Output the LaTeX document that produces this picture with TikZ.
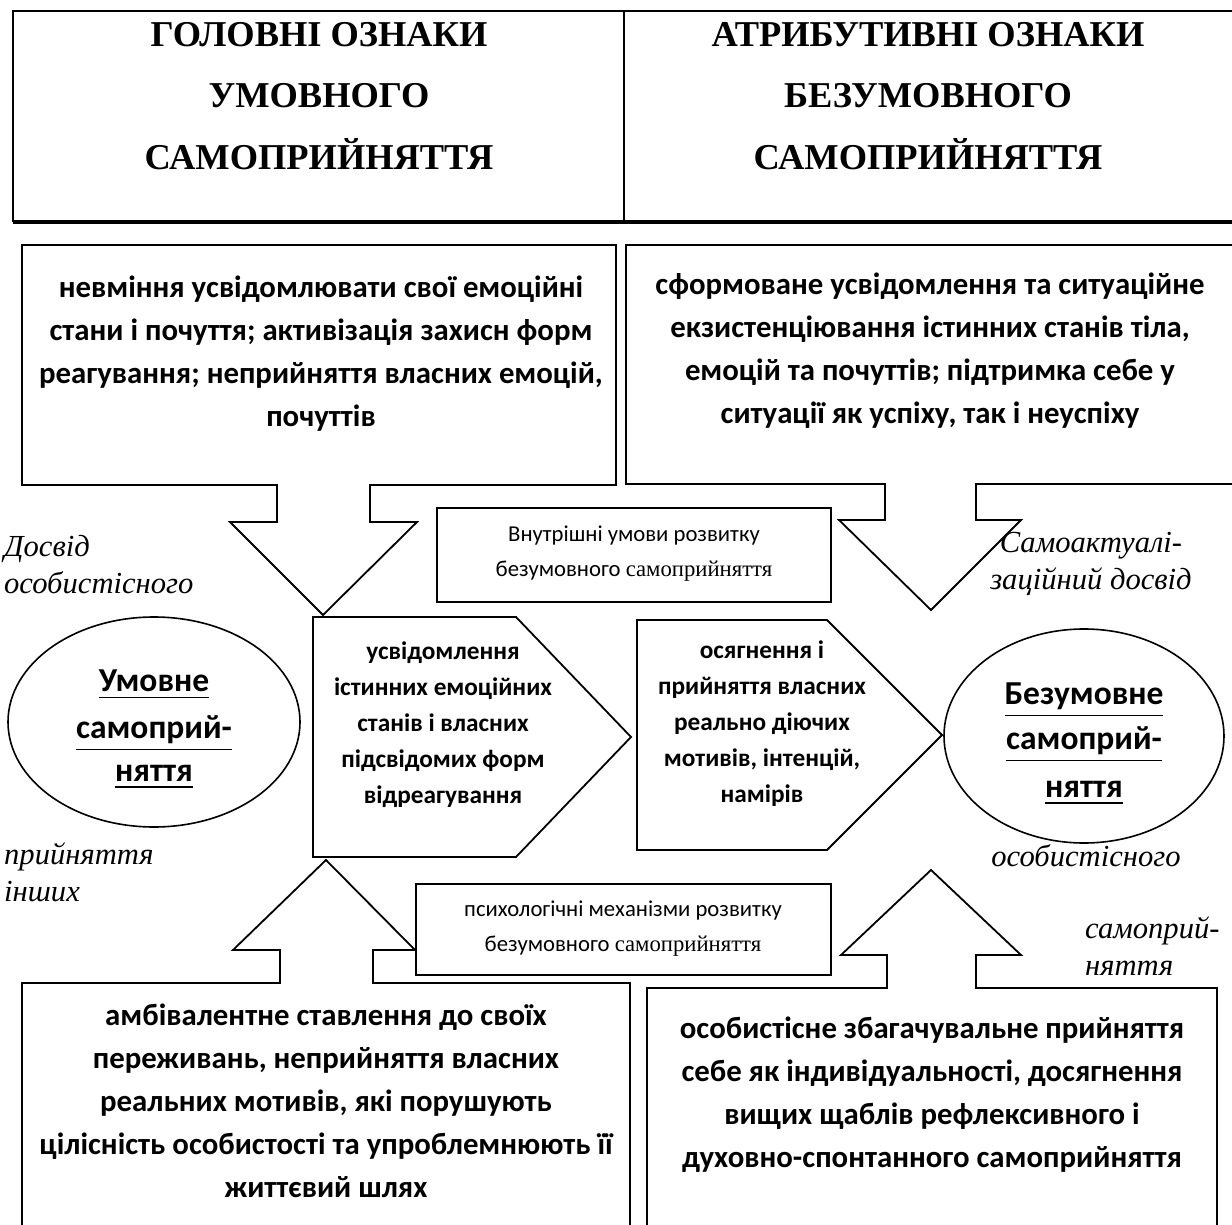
\documentclass[tikz,border=0pt]{standalone}
\usepackage{fontspec}
\setmainfont{Liberation Serif}
\newfontfamily\cfont{Carlito}
\usetikzlibrary{shapes.geometric}
\makeatletter
\newcommand\thul[1]{$\fontdimen8\textfont3=1.8pt\relax\underline{\hbox{#1}}\m@th$}
\makeatother
\begin{document}
\begin{tikzpicture}[x=1pt,y=-1pt,
  shapeline/.style={draw=black, line width=1.8pt, line join=miter},
  bodytxt/.style={font=\cfont\bfseries\fontsize{30.8}{43}\selectfont, align=center, inner sep=0},
  pentxt/.style={font=\cfont\bfseries\fontsize{25.3}{36}\selectfont, align=center, inner sep=0},
  ellitxt/.style={font=\cfont\bfseries\fontsize{33.5}{46}\selectfont, inner sep=0, anchor=base},
  smalltxt/.style={font=\cfont\fontsize{22.7}{35}\selectfont, align=center, inner sep=0},
  ittxt/.style={font=\itshape\fontsize{30.6}{37}\selectfont, align=left, inner sep=0},
  headtxt/.style={font=\bfseries\fontsize{36.4}{61.5}\selectfont, align=center, inner sep=0},
  ellshape/.style={ellipse, draw=black, line width=1.6pt, inner sep=0}
]
\useasboundingbox (0,0) rectangle (1232,1225);
\fill[white] (0,0) rectangle (1232,1225);

% header
\coordinate (hTL) at (13,11);
\coordinate (hBL) at (13,222);
\coordinate (hTR) at (1240,11);
\coordinate (hBR) at (1240,222);
\coordinate (hdT) at (624,11);
\coordinate (hdB) at (624,222);
\draw[line width=2pt] (hTR) -- (hTL) -- (hBL);
\draw[line width=3.2pt] (hBL) -- (hBR);
\draw[line width=1.3pt] (hdT) -- (hdB);
\node[headtxt] (h1) at (319,96) {ГОЛОВНІ ОЗНАКИ\\УМОВНОГО\\САМОПРИЙНЯТТЯ};
\node[headtxt] (h2) at (928,96) {АТРИБУТИВНІ ОЗНАКИ\\БЕЗУМОВНОГО\\САМОПРИЙНЯТТЯ};

% top-left callout
\draw[shapeline] (22,245) -- (616,245) -- (616,485) -- (370,485) -- (370,522) -- (417,522)
  -- (323,615) coordinate (tlTip) -- (230,522) -- (277,522) -- (277,485) -- (22,485) -- cycle;
\node[bodytxt] (tl) at (321,354) {невміння усвідомлювати свої емоційні\\стани і почуття; активізація захисн форм\\реагування; неприйняття власних емоцій,\\почуттів};

% top-right callout
\draw[shapeline] (1245,245) -- (626,245) -- (626,484) -- (885,484) -- (885,520) -- (839,520)
  -- (931,610) coordinate (trTip) -- (1021,520) -- (976,520) -- (976,484) -- (1245,484);
\node[bodytxt] (tr) at (930,351) {сформоване усвідомлення та ситуаційне\\екзистенціювання істинних станів тіла,\\емоцій та почуттів; підтримка себе у\\ситуації як успіху, так і неуспіху};

% inner condition box
\draw[shapeline] (437,508) rectangle (831,602);
\node[smalltxt] (ib1) at (634,554) {Внутрішні умови розвитку\\безумовного {\rmfamily самоприйняття}};

% pentagons
\draw[shapeline] (313,617) -- (516,617) -- (631,737) coordinate (p1tip) -- (516,857) -- (313,857) -- cycle;
\node[pentxt] (p1) at (443,725) {усвідомлення\\істинних емоційних\\станів і власних\\підсвідомих форм\\відреагування};
\draw[shapeline] (637,620) -- (827,620) -- (942,735) coordinate (p2tip) -- (827,850) -- (637,850) -- cycle;
\node[pentxt] (p2) at (762,724) {осягнення і\\прийняття власних\\реально діючих\\мотивів, інтенцій,\\намірів};

% ellipses with underlined captions
\node[ellshape, minimum width=292pt, minimum height=210pt] (e1) at (154,722) {};
\node[ellitxt] (e1a) at (154,691) {\thul{Умовне}};
\node[ellitxt] (e1b) at (154,738) {\thul{самоприй-}};
\node[ellitxt] (e1c) at (154,781) {\thul{няття}};
\node[ellshape, minimum width=280pt, minimum height=214pt] (e2) at (1084,736) {};
\node[ellitxt] (e2a) at (1084,704) {\thul{Безумовне}};
\node[ellitxt] (e2b) at (1084,749) {\thul{самоприй-}};
\node[ellitxt] (e2c) at (1084,797) {\thul{няття}};

% mechanisms box
\draw[shapeline] (416,884) rectangle (831,975);
\node[smalltxt] (ib2) at (623,929) {психологічні механізми розвитку\\безумовного {\rmfamily самоприйняття}};

% bottom-left callout
\draw[shapeline] (22,1240) -- (22,983) -- (280,983) -- (280,950) -- (233,950) -- (326,860) coordinate (blTip)
  -- (415,950) -- (373,950) -- (373,983) -- (630,983) -- (630,1240);
\node[bodytxt] (bl) at (326,1101) {амбівалентне ставлення до своїх\\переживань, неприйняття власних\\реальних мотивів, які порушують\\цілісність особистості та упроблемнюють її\\життєвий шлях};

% bottom-right callout
\draw[shapeline] (647,1240) -- (647,988) -- (887,988) -- (887,955) -- (841,955) -- (931,870) coordinate (brTip)
  -- (1021,955) -- (976,955) -- (976,988) -- (1217,988) -- (1217,1240);
\node[bodytxt] (br) at (932,1095) {особистісне збагачувальне прийняття\\себе як індивідуальності, досягнення\\вищих щаблів рефлексивного і\\духовно-спонтанного самоприйняття};

% italic labels
\node[ittxt, anchor=west] (it1) at (4,565) {Досвід\\особистісного};
\node[ittxt, anchor=west] (it2) at (4,872) {прийняття\\інших};
\node[ittxt, align=center] (it3) at (1091,564) {Самоактуалі-\\заційний досвід};
\node[ittxt] (it4) at (1086,856) {особистісного};
\node[ittxt, anchor=west] (it5) at (1085,946) {самоприй-\\няття};
\end{tikzpicture}
\end{document}
